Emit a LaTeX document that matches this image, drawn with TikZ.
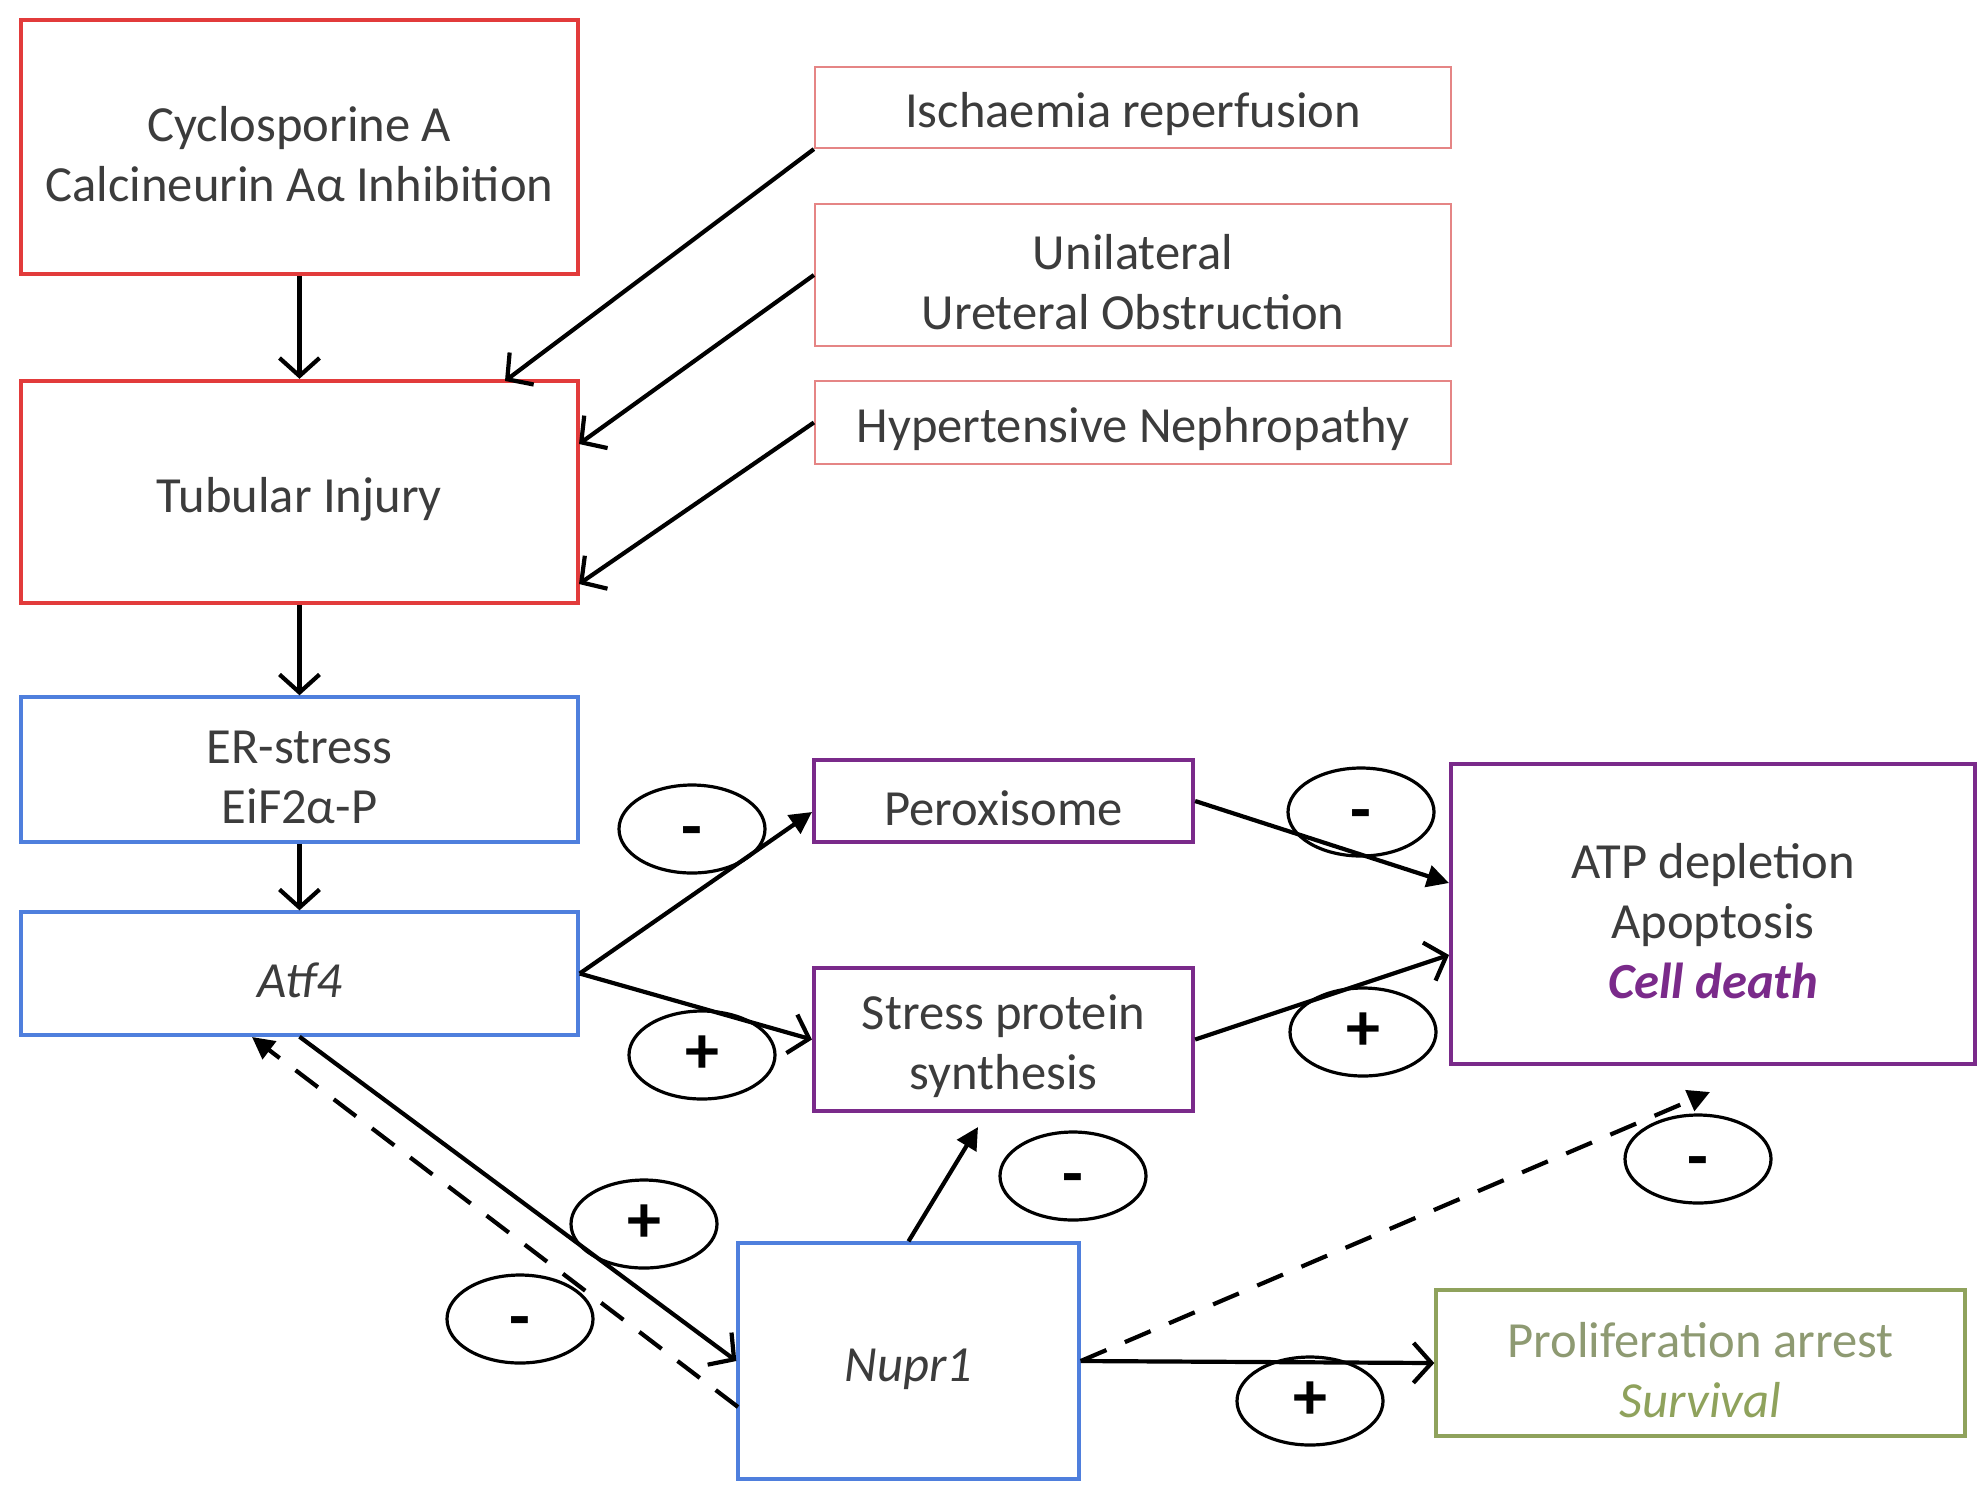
\documentclass[tikz,border=0pt]{standalone}
\usepackage{fontspec}
\setmainfont{Carlito}
\usetikzlibrary{arrows.meta,shapes.geometric}
\definecolor{txt}{HTML}{3C3C3C}
\definecolor{redA}{HTML}{E23B3B}
\definecolor{pinkA}{HTML}{E58585}
\definecolor{blueA}{HTML}{4F7FDD}
\definecolor{purpA}{HTML}{7A2A8A}
\definecolor{greenA}{HTML}{8FA25C}
\definecolor{greenT}{HTML}{8E9A72}
\newcommand\tstrut{\rule{0pt}{24.5pt}}
\newcommand\minussign{\raisebox{-10pt}[0pt][0pt]{-}}
\begin{document}
\begin{tikzpicture}[x=0.5pt,y=-0.5pt,
  box/.style={draw, rectangle, inner sep=0pt, align=center, text=txt, font=\fontsize{25.3}{30}\selectfont},
  redbox/.style={box, draw=redA, line width=2.2pt},
  pinkbox/.style={box, draw=pinkA, line width=1.1pt},
  bluebox/.style={box, draw=blueA, line width=1.7pt},
  purpbox/.style={box, draw=purpA, line width=2.1pt},
  greenbox/.style={box, draw=greenA, line width=1.7pt},
  sign/.style={draw, ellipse, line width=1.6pt, minimum width=73pt, minimum height=44pt, inner sep=0pt, font=\fontsize{34}{34}\selectfont\bfseries},
  conn/.style={line width=2.1pt, -{Straight Barb[length=9pt,width=20pt,line width=2.1pt]}},
  inh/.style={line width=2.1pt, -{Triangle[length=11pt,width=11pt]}},
  dashinh/.style={inh, dash pattern=on 14pt off 10pt}
]
\useasboundingbox (0,0) rectangle (1979,1484);
\fill[white] (0,0) rectangle (1979,1484);

% boxes
\node[redbox, minimum width=278.5pt, minimum height=127pt] (cyc) at (299.5,147) {\tstrut Cyclosporine A\\Calcineurin Aα Inhibition};
\node[redbox, minimum width=278.5pt, minimum height=111pt] (tub) at (299.5,492) {\tstrut Tubular Injury};
\node[pinkbox, minimum width=318pt, minimum height=40.5pt] (isch) at (1133,107.5) {\tstrut Ischaemia reperfusion};
\node[pinkbox, minimum width=318pt, minimum height=71pt] (uni) at (1133,275) {\tstrut Unilateral\\Ureteral Obstruction};
\node[pinkbox, minimum width=318pt, minimum height=41.5pt] (hyp) at (1133,422.5) {\tstrut Hypertensive Nephropathy};
\node[bluebox, minimum width=278.5pt, minimum height=72.5pt] (er) at (299.5,769.5) {\tstrut ER-stress\\EiF2α-P};
\node[bluebox, minimum width=278.5pt, minimum height=61.5pt] (atf) at (299.5,973.5) {\tstrut\itshape Atf4};
\node[purpbox, minimum width=189.5pt, minimum height=41pt] (per) at (1003.5,801) {\tstrut Peroxisome};
\node[purpbox, minimum width=189.5pt, minimum height=71.5pt] (str) at (1003.5,1039.5) {\tstrut Stress protein\\synthesis};
\node[purpbox, minimum width=262pt, minimum height=150pt] (atp) at (1713,914) {\tstrut ATP depletion\\Apoptosis\\\textcolor{purpA}{\bfseries\itshape Cell death}};
\node[bluebox, minimum width=170.5pt, minimum height=118pt] (nup) at (908.5,1361) {\tstrut\itshape Nupr1};
\node[greenbox, minimum width=264.5pt, minimum height=73pt] (pro) at (1700.5,1363) {\tstrut\textcolor{greenT}{Proliferation arrest}\\\textcolor{greenA}{\itshape Survival}};

% free connector ends
\coordinate (tubA) at (505,381);
\coordinate (tubB) at (579,444);
\coordinate (tubC) at (579,584);
\coordinate (perA) at (812,812);
\coordinate (atpA) at (1449,883);
\coordinate (atpB) at (1449,955);
\coordinate (nupA) at (738,1407);
\coordinate (atfA) at (252,1037);
\coordinate (strA) at (978,1127);
\coordinate (atpC) at (1710,1092);

% connectors
\draw[conn] (cyc.south) -- (tub.north);
\draw[conn] (isch.south west) -- (tubA);
\draw[conn] (uni.west) -- (tubB);
\draw[conn] (hyp.west) -- (tubC);
\draw[conn] (tub.south) -- (er.north);
\draw[conn] (er.south) -- (atf.north);
\draw[inh] (atf.east) -- (perA);
\draw[conn] (atf.east) -- (str.west);
\draw[inh] (per.east) -- (atpA);
\draw[conn] (str.east) -- (atpB);
\draw[conn] (atf.south) -- (nup.west);
\draw[dashinh] (nupA) -- (atfA);
\draw[inh] (nup.north) -- (strA);
\draw[conn] (nup.east) -- (pro.west);
\draw[dashinh] (nup.east) -- (atpC);

% sign ellipses
\node[sign] (s1) at (692,829) {\minussign};
\node[sign] (s2) at (702,1055) {+};
\node[sign] (s3) at (1361,812) {\minussign};
\node[sign] (s4) at (1363,1032) {+};
\node[sign] (s5) at (644,1224) {+};
\node[sign] (s6) at (520,1319) {\minussign};
\node[sign] (s7) at (1073,1176) {\minussign};
\node[sign] (s8) at (1698,1159) {\minussign};
\node[sign] (s9) at (1310,1401) {+};
\end{tikzpicture}
\end{document}
